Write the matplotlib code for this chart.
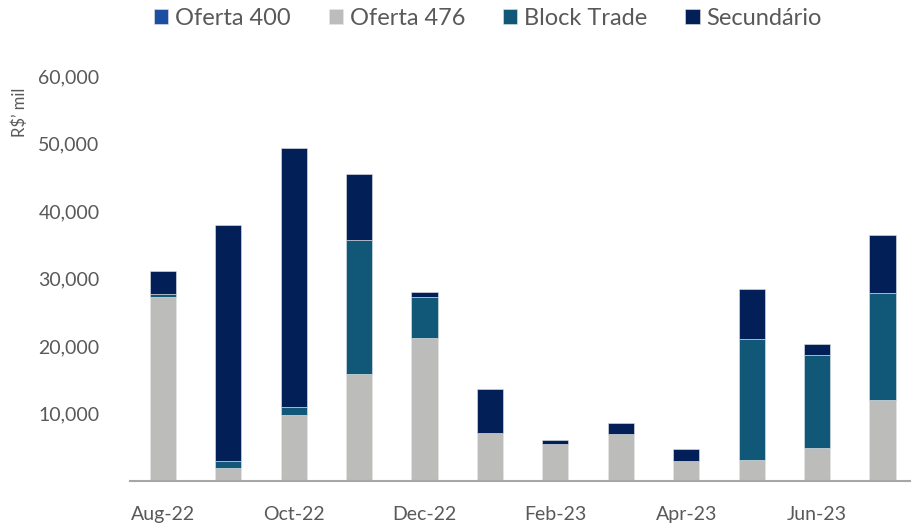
import numpy as np
import matplotlib
matplotlib.use("Agg")
import matplotlib.pyplot as plt

months = ["Aug-22", "Sep-22", "Oct-22", "Nov-22", "Dec-22", "Jan-23",
          "Feb-23", "Mar-23", "Apr-23", "May-23", "Jun-23", "Jul-23"]

oferta_400 = [0, 0, 0, 0, 0, 0, 0, 0, 0, 0, 0, 0]
oferta_476 = [27200, 1900, 9800, 15850, 21150, 7050, 5450, 7000, 2900, 3050, 4900, 11950]
block_trade = [450, 1050, 1150, 19850, 6150, 0, 0, 0, 0, 17950, 13700, 15900]
secundario = [3500, 34950, 38350, 9800, 700, 6650, 650, 1550, 1850, 7450, 1700, 8550]

series = [
    ("Oferta 400", oferta_400, "#1C4FA2"),
    ("Oferta 476", oferta_476, "#BCBDBB"),
    ("Block Trade", block_trade, "#115878"),
    ("Secundário", secundario, "#021F58"),
]

plt.rcParams.update({"font.family": ["Lato", "DejaVu Sans"], "font.size": 13})
text_color = "#595959"

fig = plt.figure(figsize=(9.12, 5.29), dpi=100, facecolor="white")
ax = fig.add_axes([130 / 912, 1 - 481 / 529, 782 / 912, 405 / 529])

x = np.arange(len(months))
bottom = np.zeros(len(months))
for name, vals, color in series:
    vals = np.array(vals, dtype=float)
    ax.bar(x, vals, width=0.4, bottom=bottom, color=color, label=name,
           edgecolor="#E6E6E6", linewidth=0.4)
    bottom += vals

ax.set_xlim(-0.5, 11.45)
ax.set_ylim(0, 60000)
ax.set_yticks(np.arange(10000, 60001, 10000))
ax.yaxis.set_major_formatter(matplotlib.ticker.FuncFormatter(lambda v, p: f"{int(v):,}"))
ax.set_xticks(x[::2])
ax.set_xticklabels(months[::2])

for s in ["top", "right", "left"]:
    ax.spines[s].set_visible(False)
ax.spines["bottom"].set_color("#A6A6A6")
ax.spines["bottom"].set_linewidth(1.5)
ax.tick_params(axis="both", length=0, colors=text_color, labelsize=14)
ax.tick_params(axis="y", pad=22)
ax.tick_params(axis="x", pad=18)

ax.set_ylabel("R$’ mil", color=text_color, fontsize=12)
ax.yaxis.set_label_coords(-0.13, 0.91)

leg = fig.legend(loc="upper center", bbox_to_anchor=(0.535, 1.025), ncol=4, frameon=False,
                 fontsize=17, handlelength=0.6, handleheight=0.6, handletextpad=0.3,
                 columnspacing=1.6)
for t in leg.get_texts():
    t.set_color(text_color)

fig.savefig("out.png", dpi=100, facecolor="white")
